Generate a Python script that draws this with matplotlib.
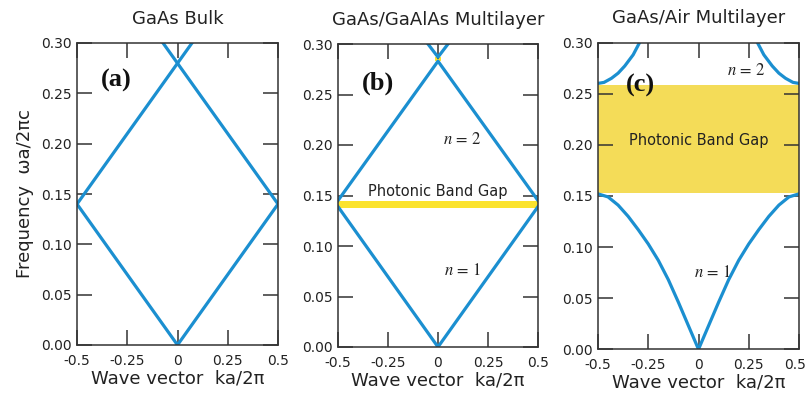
import matplotlib
matplotlib.use("Agg")
import matplotlib.pyplot as plt
import matplotlib.transforms as mtransforms

plt.rcParams['font.family'] = ['DejaVu Sans']
plt.rcParams['mathtext.fontset'] = 'stix'

# ---------------- data ----------------
titles = ["GaAs Bulk", "GaAs/GaAlAs Multilayer", "GaAs/Air Multilayer"]
panel_labels = ["(a)", "(b)", "(c)"]
xticks = [-0.5, -0.25, 0.0, 0.25, 0.5]
xticklabels = ["-0.5", "-0.25", "0", "0.25", "0.5"]
yticks = [0.00, 0.05, 0.10, 0.15, 0.20, 0.25, 0.30]
yticklabels = ["0.00", "0.05", "0.10", "0.15", "0.20", "0.25", "0.30"]

# (a) bulk GaAs: folded light line
a_band1_k = [-0.5, 0.0, 0.5]
a_band1_w = [0.14, 0.0, 0.14]
a_up_k = [-0.5, 0.072]          # rising branch
a_up_w = [0.14, 0.30]
a_down_k = [-0.072, 0.5]        # falling branch
a_down_w = [0.30, 0.14]

# (b) GaAs/GaAlAs multilayer
b_band1_k = [-0.5, 0.0, 0.5]
b_band1_w = [0.139, 0.0, 0.139]
b_band2_k = [-0.5, 0.0, 0.5]
b_band2_w = [0.145, 0.283, 0.145]
b_band3_k = [-0.05, 0.0, 0.05]
b_band3_w = [0.30, 0.287, 0.30]
b_gap1 = [0.138, 0.145]
b_gap2 = [0.283, 0.287]
b_gap2_k = [-0.016, 0.016]

# (c) GaAs/Air multilayer
c_band1_k = [-0.5, -0.45, -0.4, -0.35, -0.3, -0.25, -0.2, -0.15, -0.1, -0.05, 0.0,
             0.05, 0.1, 0.15, 0.2, 0.25, 0.3, 0.35, 0.4, 0.45, 0.5]
c_band1_w = [0.152, 0.149, 0.141, 0.130, 0.117, 0.103, 0.087, 0.068, 0.046, 0.023, 0.0,
             0.023, 0.046, 0.068, 0.087, 0.103, 0.117, 0.130, 0.141, 0.149, 0.152]
c_band2_left_k = [-0.5, -0.47, -0.433, -0.40, -0.367, -0.325, -0.293]
c_band2_left_w = [0.260, 0.261, 0.265, 0.270, 0.277, 0.288, 0.300]
c_band2_right_k = [0.293, 0.325, 0.367, 0.40, 0.433, 0.47, 0.5]
c_band2_right_w = [0.300, 0.288, 0.277, 0.270, 0.265, 0.261, 0.260]
c_gap = [0.153, 0.258]

# ---------------- styling ----------------
BLUE = "#1b8fd0"
YEL_B = "#fbe32e"
YEL_C = "#f4dc58"
TXT = "#222222"
SPINE = "#333333"
LW = 2.3

fig = plt.figure(figsize=(8.07, 3.99), dpi=100)
W, H = 807.0, 399.0
boxes = [(77, 43, 278, 345), (338, 44, 538, 347), (598, 42.5, 799, 349.3)]
axes = []
for (l, t, r, b) in boxes:
    ax = fig.add_axes([l / W, 1 - b / H, (r - l) / W, (b - t) / H])
    axes.append(ax)

for i, ax in enumerate(axes):
    ax.set_xlim(-0.5, 0.5)
    ax.set_ylim(0.0, 0.30)
    ax.set_xticks(xticks)
    ax.set_xticklabels(xticklabels)
    ax.set_yticks(yticks)
    ax.set_yticklabels(yticklabels)
    ax.tick_params(direction='in', length=10.5, width=1.1, color=SPINE,
                   top=True, right=True, labelsize=10, labelcolor=TXT)
    ax.tick_params(axis='x', pad=6.5)
    ax.tick_params(axis='y', pad=4)
    for s in ax.spines.values():
        s.set_color(SPINE)
        s.set_linewidth(1.1)
    ax.set_xlabel("Wave vector  ka/2\u03c0", fontsize=13, color=TXT, labelpad=1)
    ax.set_title(titles[i], fontsize=13, color=TXT, pad=14)

axes[0].set_ylabel("Frequency  \u03c9a/2\u03c0c", fontsize=13, color=TXT, labelpad=5)

# keep the last x tick label of panel (c) inside the picture
last = axes[2].get_xticklabels()[-1]
last.set_transform(last.get_transform() +
                   mtransforms.ScaledTranslation(-4 / 100, 0, fig.dpi_scale_trans))

# (a)
ax = axes[0]
ax.plot(a_band1_k, a_band1_w, color=BLUE, lw=LW, solid_joinstyle='miter')
ax.plot(a_up_k, a_up_w, color=BLUE, lw=LW)
ax.plot(a_down_k, a_down_w, color=BLUE, lw=LW)

# (b)
ax = axes[1]
ax.axhspan(b_gap1[0], b_gap1[1], color=YEL_B, zorder=1, lw=0)
ax.fill_between(b_gap2_k, b_gap2[0], b_gap2[1], color=YEL_B, zorder=1, lw=0)
ax.plot(b_band1_k, b_band1_w, color=BLUE, lw=LW, zorder=2)
ax.plot(b_band2_k, b_band2_w, color=BLUE, lw=LW, zorder=2)
ax.plot(b_band3_k, b_band3_w, color=BLUE, lw=LW, zorder=2)
ax.text(0.0, 0.154, "Photonic Band Gap", ha='center', va='center', fontsize=10.5, color=TXT)
ax.text(0.12, 0.205, r"$n$ = 2", ha='center', va='center', fontsize=12, color=TXT,
        family='STIXGeneral')
ax.text(0.12, 0.075, r"$n$ = 1", ha='center', va='center', fontsize=12, color=TXT,
        family='STIXGeneral')

# (c)
ax = axes[2]
ax.axhspan(c_gap[0], c_gap[1], color=YEL_C, zorder=1, lw=0)
ax.plot(c_band1_k, c_band1_w, color=BLUE, lw=LW, zorder=2)
ax.plot(c_band2_left_k, c_band2_left_w, color=BLUE, lw=LW, zorder=2)
ax.plot(c_band2_right_k, c_band2_right_w, color=BLUE, lw=LW, zorder=2)
ax.text(0.0, 0.204, "Photonic Band Gap", ha='center', va='center', fontsize=10.5, color=TXT)
ax.text(0.235, 0.272, r"$n$ = 2", ha='center', va='center', fontsize=12, color=TXT,
        family='STIXGeneral')
ax.text(0.07, 0.075, r"$n$ = 1", ha='center', va='center', fontsize=12, color=TXT,
        family='STIXGeneral')

# panel letters
label_pos = [(-0.38, 0.263), (-0.38, 0.261), (-0.36, 0.258)]
for ax, lab, (x, y) in zip(axes, panel_labels, label_pos):
    ax.text(x, y, lab, ha='left', va='center', fontsize=19, fontweight='bold',
            family='Liberation Serif', color='#111111', zorder=5)

fig.savefig("out.png", dpi=100)
